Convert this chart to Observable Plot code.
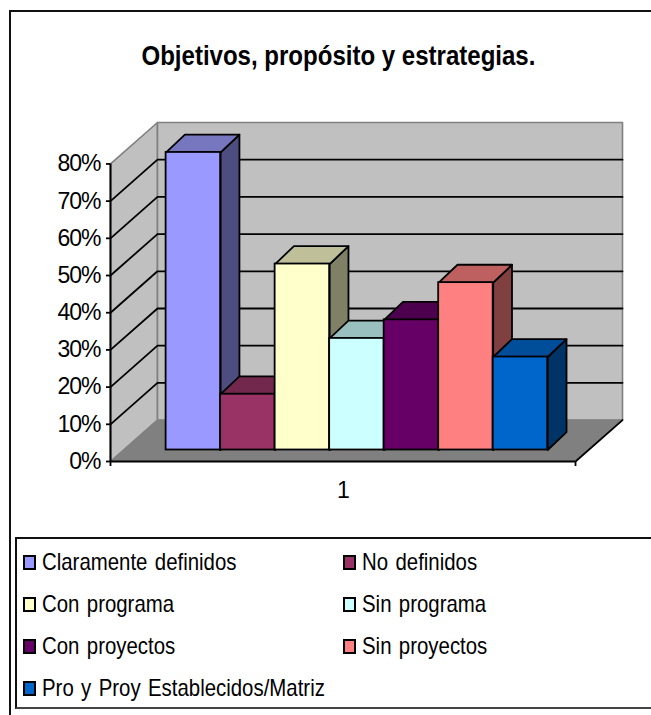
<!DOCTYPE html>
<html><head><meta charset="utf-8">
<script src="https://cdn.jsdelivr.net/npm/d3@7"></script>
<script src="https://cdn.jsdelivr.net/npm/@observablehq/plot@0.6"></script>
<style>
html,body{margin:0;padding:0;background:#fff;}
#page{position:relative;width:651px;height:715px;overflow:hidden;font-family:"Liberation Sans",Arial,sans-serif;color:#000;}
#frame{position:absolute;left:9px;top:10px;right:-4px;bottom:-4px;border:2px solid #111;box-sizing:border-box;}
#title{position:absolute;left:0;top:41px;width:677px;text-align:center;font-weight:bold;font-size:27px;line-height:30px;white-space:nowrap;transform:scaleX(.89);transform-origin:338px 0;}
#chart{position:absolute;left:0;top:100px;}
#chart svg{display:block;overflow:visible;}
#legend{position:absolute;left:15px;top:537px;width:640px;height:172px;border:2px solid #111;border-bottom-color:#444;box-sizing:border-box;}
.item{position:absolute;height:42px;display:flex;align-items:center;}
.sw{width:9px;height:11px;border:2px solid #000;margin-right:6px;flex:none;}
.lb{font-size:24px;white-space:nowrap;display:inline-block;word-spacing:2px;transform:scaleX(.85);transform-origin:0 50%;}
</style></head><body>
<div id="page">
  <div id="frame"></div>
  <div id="title"></div>
  <div id="chart"></div>
  <div id="legend"></div>
</div>
<script>
const titleText = "Objetivos, propósito y estrategias.";
const categories = ["1"];
const series = ["Claramente definidos","No definidos","Con programa","Sin programa","Con proyectos","Sin proyectos","Pro y Proy Establecidos/Matriz"];
const values = [80,15,50,30,35,45,25];
const colors = ["#9999FF","#993366","#FFFFCC","#CCFFFF","#660066","#FF8080","#0066CC"];
const topColors = ["#7777C0","#72274D","#BFBF99","#99BFBF","#4D004D","#BF6060","#004D99"];
const sideColors = ["#4D4D80","#4D1A33","#808066","#668080","#330033","#804040","#003366"];
const yTicks = [0,10,20,30,40,50,60,70,80];

// Projection of the oblique view, in scale units (x: one bar width, y: one percent)
const floorX0 = -1.02, floorX1 = 7.51;
const wallDx = 0.862, wallDy = 11.14;
const barDx = 0.345, barDy = 4.8, barBase = 3.09;

const poly = (id, fill, pts) => pts.map(([x,y]) => ({id, fill, x, y}));
const sides = values.flatMap((v,i) => poly("s"+i, sideColors[i], [[i+1,barBase],[i+1+barDx,barBase+barDy],[i+1+barDx,v+barBase+barDy],[i+1,v+barBase]]));
const tops = values.flatMap((v,i) => poly("t"+i, topColors[i], [[i,v+barBase],[i+1,v+barBase],[i+1+barDx,v+barBase+barDy],[i+barDx,v+barBase+barDy]]));
const fronts = values.map((v,i) => ({i, v, fill: colors[i]}));

const wallTop = 80;
const walls = [
  ...poly("left","#C0C0C0",[[floorX0,0],[floorX0,wallTop],[floorX0+wallDx,wallTop+wallDy],[floorX0+wallDx,wallDy]]),
  ...poly("back","#C0C0C0",[[floorX0+wallDx,wallDy],[floorX0+wallDx,wallTop+wallDy],[floorX1+wallDx,wallTop+wallDy],[floorX1+wallDx,wallDy]])
];
const floor = poly("floor","#808080",[[floorX0,0],[floorX1,0],[floorX1+wallDx,wallDy],[floorX0+wallDx,wallDy]]);
const gridTicks = yTicks.filter(t => t > 0 && t < wallTop);
const grid = gridTicks.flatMap(t => [{id:t,x:floorX0,y:t},{id:t,x:floorX0+wallDx,y:t+wallDy},{id:t,x:floorX1+wallDx,y:t+wallDy}]);

const chart = Plot.plot({
  width: 651, height: 400,
  marginLeft: 110, marginRight: 29, marginTop: 22, marginBottom: 39,
  x: {domain: [floorX0, floorX1 + wallDx], axis: null},
  y: {domain: [0, wallTop + wallDy], axis: null},
  color: {type: "identity"},
  style: {fontFamily: '"Liberation Sans",Arial,sans-serif', background: "transparent", letterSpacing: "-1px"},
  marks: [
    Plot.line(walls, {x:"x", y:"y", z:"id", fill:"fill", stroke:"#808080", strokeWidth:1.6, curve:"linear-closed"}),
    Plot.line(floor, {x:"x", y:"y", z:"id", fill:"fill", stroke:"#808080", strokeWidth:1, curve:"linear-closed"}),
    Plot.line(grid, {x:"x", y:"y", z:"id", stroke:"#000", strokeWidth:1.8}),
    Plot.line([{x:floorX1,y:0},{x:floorX1+wallDx,y:wallDy}], {x:"x", y:"y", stroke:"#000", strokeWidth:1.8}),
    Plot.ruleY([0], {x1:floorX0, x2:floorX1, stroke:"#000", strokeWidth:2}),
    Plot.ruleX([floorX0], {y1:0, y2:wallTop, stroke:"#000", strokeWidth:2}),
    Plot.axisY({ticks: yTicks, tickFormat: d => d + "%", tickSize: 4, tickPadding: 6, fontSize: 23, strokeWidth: 1.8, label: null, color: "#000"}),
    Plot.axisX({ticks: [floorX0, floorX1], tickFormat: () => "", tickSize: 5, strokeWidth: 1.8, label: null}),
    Plot.text(categories, {x: () => (floorX0 + floorX1) / 2, y: () => 0, dy: 29, text: d => d, fontSize: 23, fill: "#000"}),
    Plot.line(sides, {x:"x", y:"y", z:"id", fill:"fill", stroke:"#000", strokeWidth:1.8, curve:"linear-closed"}),
    Plot.line(tops, {x:"x", y:"y", z:"id", fill:"fill", stroke:"#000", strokeWidth:1.8, curve:"linear-closed"}),
    Plot.rect(fronts, {x1:"i", x2: d => d.i + 1, y1: () => barBase, y2: d => d.v + barBase, fill:"fill", stroke:"#000", strokeWidth:1.8})
  ]
});
document.getElementById("chart").append(chart);
document.getElementById("title").textContent = titleText;

const legend = document.getElementById("legend");
series.forEach((s,i) => {
  const it = document.createElement("div");
  it.className = "item";
  it.style.left = (i % 2 ? 326 : 6) + "px";
  it.style.top = (2 + 42 * Math.floor(i / 2)) + "px";
  const sw = document.createElement("span"); sw.className = "sw"; sw.style.background = colors[i];
  const lb = document.createElement("span"); lb.className = "lb"; lb.textContent = s;
  it.append(sw, lb); legend.append(it);
});
</script>
</body></html>
